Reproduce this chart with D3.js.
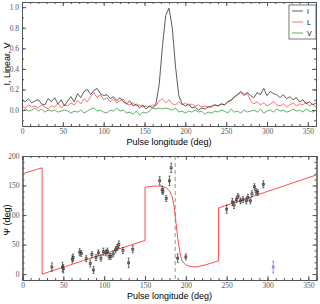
<!DOCTYPE html>
<html>
<head>
<meta charset="utf-8">
<script src="https://cdn.jsdelivr.net/npm/d3@7"></script>
<style>
  body { margin: 0; background: #fff; }
  .tick text { font-family: "Liberation Serif", serif; font-size: 7.5px; fill: #555; }
  .title { font-family: "Liberation Sans", sans-serif; font-size: 9px; fill: #000; }
</style>
</head>
<body>
<script>
// profile, sampled every 4 deg of pulse longitude
var lonStep = 4;
var stokesI = [0.10,0.08,0.11,0.07,0.09,0.10,0.06,0.05,0.11,0.08,0.12,0.06,0.10,0.04,0.09,0.13,
    0.08,0.16,0.12,0.18,0.20,0.15,0.19,0.21,0.16,0.14,0.15,0.11,0.13,0.09,0.12,0.08,0.06,0.09,
    0.04,0.06,0.02,0.05,0.01,0.04,0.02,0.06,0.25,0.62,0.92,0.99,0.80,0.42,0.14,0.06,0.04,0.06,
    0.02,0.03,0.00,0.02,0.01,0.03,0.03,0.05,0.04,0.06,0.05,0.08,0.10,0.13,0.15,0.18,0.15,0.17,
    0.14,0.12,0.17,0.15,0.21,0.14,0.18,0.16,0.15,0.12,0.15,0.11,0.13,0.10,0.12,0.08,0.10,0.06,
    0.08,0.05,0.07];
var linearL = [0.04,0.02,0.05,0.03,0.04,0.02,0.05,0.03,0.01,0.04,0.03,0.06,0.02,0.05,0.04,0.07,
    0.05,0.09,0.06,0.11,0.08,0.13,0.17,0.12,0.15,0.10,0.12,0.08,0.11,0.07,0.09,0.11,0.06,0.05,
    0.07,0.04,0.05,0.03,0.04,0.03,0.05,0.04,0.09,0.11,0.07,0.10,0.06,0.05,0.08,0.05,0.07,0.04,
    0.06,0.04,0.05,0.03,0.04,0.03,0.04,0.05,0.04,0.06,0.05,0.08,0.09,0.12,0.15,0.17,0.14,0.16,
    0.09,0.06,0.08,0.05,0.07,0.04,0.06,0.08,0.05,0.04,0.06,0.03,0.05,0.07,0.04,0.06,0.05,0.08,
    0.04,0.06,0.03];
var circV = [-0.02,0.01,-0.01,0.00,0.02,-0.01,0.01,-0.02,0.00,-0.01,0.00,-0.02,-0.01,0.00,-0.01,-0.03,
    -0.01,-0.02,0.00,-0.03,-0.01,0.01,0.02,-0.01,0.00,-0.02,-0.03,0.00,-0.01,0.02,-0.01,0.00,-0.03,-0.02,
    -0.04,-0.01,-0.05,-0.02,-0.03,-0.01,0.02,0.01,0.02,0.01,0.02,0.01,0.00,0.02,-0.02,-0.01,-0.03,-0.01,
    -0.02,0.00,-0.02,-0.01,-0.04,-0.02,-0.03,-0.01,-0.02,0.00,-0.01,-0.03,0.01,-0.02,-0.01,-0.03,0.00,-0.02,
    -0.01,0.00,-0.02,0.01,-0.03,-0.01,0.00,-0.02,0.01,-0.01,0.00,-0.02,-0.01,0.01,-0.01,0.00,-0.02,0.01,
    -0.01,-0.02,0.00];

// position angle measurements: longitude, PA, error
var paLon = [36,49,50,61,62,70,72,78,83,85,87,90,93,96,99,102,104,106,108,111,114,116,118,123,130,135,
    168,171,172,176,180,182,190,200,250,257,259,262,264,267,270,274,276,279,281,284,286,288,295];
var paVal = [12,12,9,25,28,37,35,26,18,33,7,28,36,27,38,36,39,30,30,34,41,45,50,40,19,42,
    158,143,140,128,158,180,27,29,110,122,117,126,132,124,126,124,130,124,136,148,140,138,152];
var paErr = [7,8,7,6,6,6,5,5,6,5,6,5,5,5,6,5,5,5,5,5,5,5,6,5,8,6,
    7,6,5,5,8,8,7,5,7,6,6,5,4,5,5,5,5,5,5,5,5,5,6];
var outLon = [307], outVal = [12], outErr = [10];

// RVM fit curve
var fitLon = [0,24,24.01,150,150.01,160,170,176,180,183,185,186.5,188,189.5,191,193,195,198,201,205,
    210,215,225,240,240.01,360];
var fitVal = [170,180,0,57,147,149,149,146,141,132,120,105,86,68,52,35,24,18,15,13,12,12.5,16,22.5,112,168];
var markerLon = 187;

var xTicks = [0,50,100,150,200,250,300,350];
var profTicks = [0.0,0.2,0.4,0.6,0.8,1.0];
var paTicks = [0,50,100,150,200];

var W = 320, H = 304;
var svg = d3.select('body').append('svg').attr('width', W).attr('height', H);

function frame(g, x, y, xMinor, yMinor, yFmt) {
    var w = x.range()[1] - x.range()[0], h = y.range()[0] - y.range()[1];
    g.append('g').attr('transform', 'translate(0,' + h + ')')
        .call(d3.axisBottom(x).tickValues(xTicks).tickSize(-4).tickPadding(3));
    g.append('g').call(d3.axisLeft(y).tickValues(y.tickVals).tickFormat(yFmt).tickSize(-4).tickPadding(3));
    g.append('g').call(d3.axisTop(x).tickValues(xTicks).tickSize(-4).tickFormat(''));
    g.append('g').attr('transform', 'translate(' + w + ',0)')
        .call(d3.axisRight(y).tickValues(y.tickVals).tickSize(-4).tickFormat(''));
    // minor ticks
    g.append('g').attr('transform', 'translate(0,' + h + ')')
        .call(d3.axisBottom(x).tickValues(xMinor).tickSize(-2).tickFormat(''));
    g.append('g').call(d3.axisTop(x).tickValues(xMinor).tickSize(-2).tickFormat(''));
    g.append('g').call(d3.axisLeft(y).tickValues(yMinor).tickSize(-2).tickFormat(''));
    g.append('g').attr('transform', 'translate(' + w + ',0)')
        .call(d3.axisRight(y).tickValues(yMinor).tickSize(-2).tickFormat(''));
    g.selectAll('.domain').attr('stroke', '#555');
    g.selectAll('.tick line').attr('stroke', '#555');
}

var xMinor = d3.range(0, 361, 10);

// ---- top panel: profile
var topG = svg.append('g').attr('transform', 'translate(22,2)');
var x1 = d3.scaleLinear().domain([0, 360]).range([0, 294]);
var y1 = d3.scaleLinear().domain([-0.155, 1.05]).range([124, 0]);
y1.tickVals = profTicks;
frame(topG, x1, y1, xMinor, d3.range(-0.1, 1.05, 0.1), d3.format('.1f'));

var line1 = d3.line().x(function(d, i) { return x1(i * lonStep); }).y(function(d) { return y1(d); });
var series = [
    { name: 'I', vals: stokesI, color: '#333' },
    { name: 'L', vals: linearL, color: '#ff4d4d' },
    { name: 'V', vals: circV, color: '#3a9a3a' }
];
series.slice().reverse().forEach(function(s) {
    topG.append('path').datum(s.vals).attr('d', line1)
        .attr('fill', 'none').attr('stroke', s.color).attr('stroke-width', 0.8);
});

// legend
var leg = topG.append('g').attr('transform', 'translate(267,3)');
leg.append('rect').attr('width', 27).attr('height', 34).attr('fill', '#fff').attr('stroke', '#555').attr('stroke-width', 0.8);
series.forEach(function(s, i) {
    leg.append('line').attr('x1', 3).attr('x2', 14).attr('y1', 6 + i * 11).attr('y2', 6 + i * 11)
        .attr('stroke', s.color).attr('stroke-width', 0.8);
    leg.append('text').attr('x', 18).attr('y', 8.5 + i * 11).text(s.name)
        .attr('font-family', 'Liberation Sans, sans-serif').attr('font-size', 7).attr('fill', '#000');
});

topG.append('text').attr('class', 'title').attr('x', 147).attr('y', 143).attr('text-anchor', 'middle')
    .text('Pulse longitude (deg)');
svg.append('text').attr('class', 'title').attr('font-size', 10).attr('transform', 'translate(10,64) rotate(-90)')
    .attr('text-anchor', 'middle').text('I, Linear, V');

// ---- bottom panel: position angle
var bot = svg.append('g').attr('transform', 'translate(22.5,156)');
var x2 = d3.scaleLinear().domain([0, 360]).range([0, 294]);
var y2 = d3.scaleLinear().domain([-10, 200]).range([124, 0]);
y2.tickVals = paTicks;
frame(bot, x2, y2, xMinor, d3.range(-10, 201, 10), d3.format('d'));

bot.append('line').attr('x1', x2(markerLon)).attr('x2', x2(markerLon)).attr('y1', 0).attr('y2', 124)
    .attr('stroke', '#5aa85a').attr('stroke-dasharray', '4,3').attr('stroke-width', 0.9);

bot.append('path').datum(d3.zip(fitLon, fitVal))
    .attr('d', d3.line().x(function(d) { return x2(d[0]); }).y(function(d) { return y2(d[1]); }))
    .attr('fill', 'none').attr('stroke', '#ff4d4d').attr('stroke-width', 1);

function errPoints(lon, val, err, color) {
    var pts = bot.append('g').selectAll('g').data(d3.range(lon.length)).enter().append('g')
        .attr('stroke', color).attr('stroke-width', 0.7);
    pts.append('line')
        .attr('x1', function(i) { return x2(lon[i]); }).attr('x2', function(i) { return x2(lon[i]); })
        .attr('y1', function(i) { return y2(val[i] - err[i]); }).attr('y2', function(i) { return y2(val[i] + err[i]); });
    [-1, 1].forEach(function(sgn) {
        pts.append('line')
            .attr('x1', function(i) { return x2(lon[i]) - 1; }).attr('x2', function(i) { return x2(lon[i]) + 1; })
            .attr('y1', function(i) { return y2(val[i] + sgn * err[i]); })
            .attr('y2', function(i) { return y2(val[i] + sgn * err[i]); });
    });
    pts.append('rect')
        .attr('x', function(i) { return x2(lon[i]) - 1; }).attr('y', function(i) { return y2(val[i]) - 1; })
        .attr('width', 2).attr('height', 2).attr('fill', 'none');
}
errPoints(paLon, paVal, paErr, '#333');
errPoints(outLon, outVal, outErr, '#6f6fe8');

bot.append('text').attr('class', 'title').attr('x', 147).attr('y', 143).attr('text-anchor', 'middle')
    .text('Pulse longitude (deg)');
svg.append('text').attr('class', 'title').attr('font-size', 10).attr('transform', 'translate(10,220) rotate(-90)')
    .attr('text-anchor', 'middle').text('Ψ (deg)');
</script>
</body>
</html>
